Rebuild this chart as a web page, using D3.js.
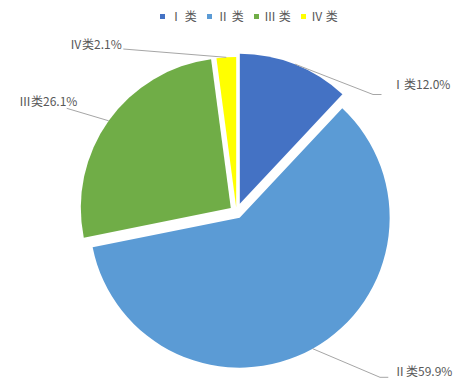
<!DOCTYPE html>
<html><head><meta charset="utf-8">
<script src="https://cdn.jsdelivr.net/npm/d3@7"></script>
<style>body{margin:0;background:#fff}svg{display:block}</style></head>
<body>
<svg id="chart" width="472" height="391"></svg>
<script>
// ---- data ----
const categories = ["Ⅰ类", "Ⅱ类", "Ⅲ类", "Ⅳ类"];
const values = [12.0, 59.9, 26.1, 2.1];
const legendLabels = ["Ⅰ 类", "Ⅱ 类", "Ⅲ 类", "Ⅳ 类"];
const valueLabels = ["12.0%", "59.9%", "26.1%", "2.1%"];
const colors = ["#4472C4", "#5B9BD5", "#70AD47", "#FFFF00"];

// ---- layout ----
const svg = d3.select("#chart");
const cx = 236.5, cy = 212, R = 150;
const explode = [9, 6.5, 7, 5];
const font = "'Noto Sans CJK SC', 'Noto Sans', sans-serif";
const textColor = "#595959";
const color = d3.scaleOrdinal().domain(categories).range(colors);

const pie = d3.pie().sort(null).value(d => d.v);
const data = categories.map((c, i) => ({c, v: values[i], i}));
const arcs = pie(data);
const arc = d3.arc().innerRadius(0).outerRadius(R);

function offset(a, d) {
  const m = (a.startAngle + a.endAngle) / 2;
  return [d * Math.sin(m), -d * Math.cos(m)];
}

const g = svg.append("g").attr("transform", `translate(${cx},${cy})`);
arcs.forEach((a, i) => {
  const [dx, dy] = offset(a, explode[i]);
  g.append("path")
    .attr("d", arc(a))
    .attr("transform", `translate(${dx},${dy})`)
    .attr("fill", color(a.data.c));
});

// ---- data labels with leader lines ----
const labelPos = [
  {x: 392, y: 89, anchor: "start", line: [[381.5, 94.5], [373, 94.5]]},
  {x: 394, y: 376, anchor: "start", line: [[388.3, 377.3], [380, 377.3]]},
  {x: 19, y: 106, anchor: "start", line: [[66.7, 108.3]]},
  {x: 70, y: 49, anchor: "start", line: [[123.3, 49]]}
];
arcs.forEach((a, i) => {
  const [dx, dy] = offset(a, explode[i] + R);
  const edge = [cx + dx, cy + dy];
  const lp = labelPos[i];
  const pts = lp.line.concat([edge]);
  svg.append("path")
    .attr("d", d3.line()(pts))
    .attr("fill", "none")
    .attr("stroke", "#A6A6A6")
    .attr("stroke-width", 1);
  svg.append("text")
    .attr("x", lp.x).attr("y", lp.y)
    .attr("text-anchor", lp.anchor)
    .attr("font-family", font).attr("font-size", 12)
    .attr("fill", textColor)
    .text(categories[i] + valueLabels[i]);
});

// ---- legend ----
const legendX = d3.scaleBand().domain(categories).range([156, 344]);
const lg = svg.append("g");
categories.forEach((c, i) => {
  const x = legendX(c) + 4;
  lg.append("rect").attr("x", x).attr("y", 14).attr("width", 5).attr("height", 5)
    .attr("fill", color(c));
  lg.append("text").attr("x", x + 10).attr("y", 21)
    .attr("font-family", font).attr("font-size", 12)
    .attr("fill", textColor)
    .text(legendLabels[i]);
});
</script>
</body></html>
